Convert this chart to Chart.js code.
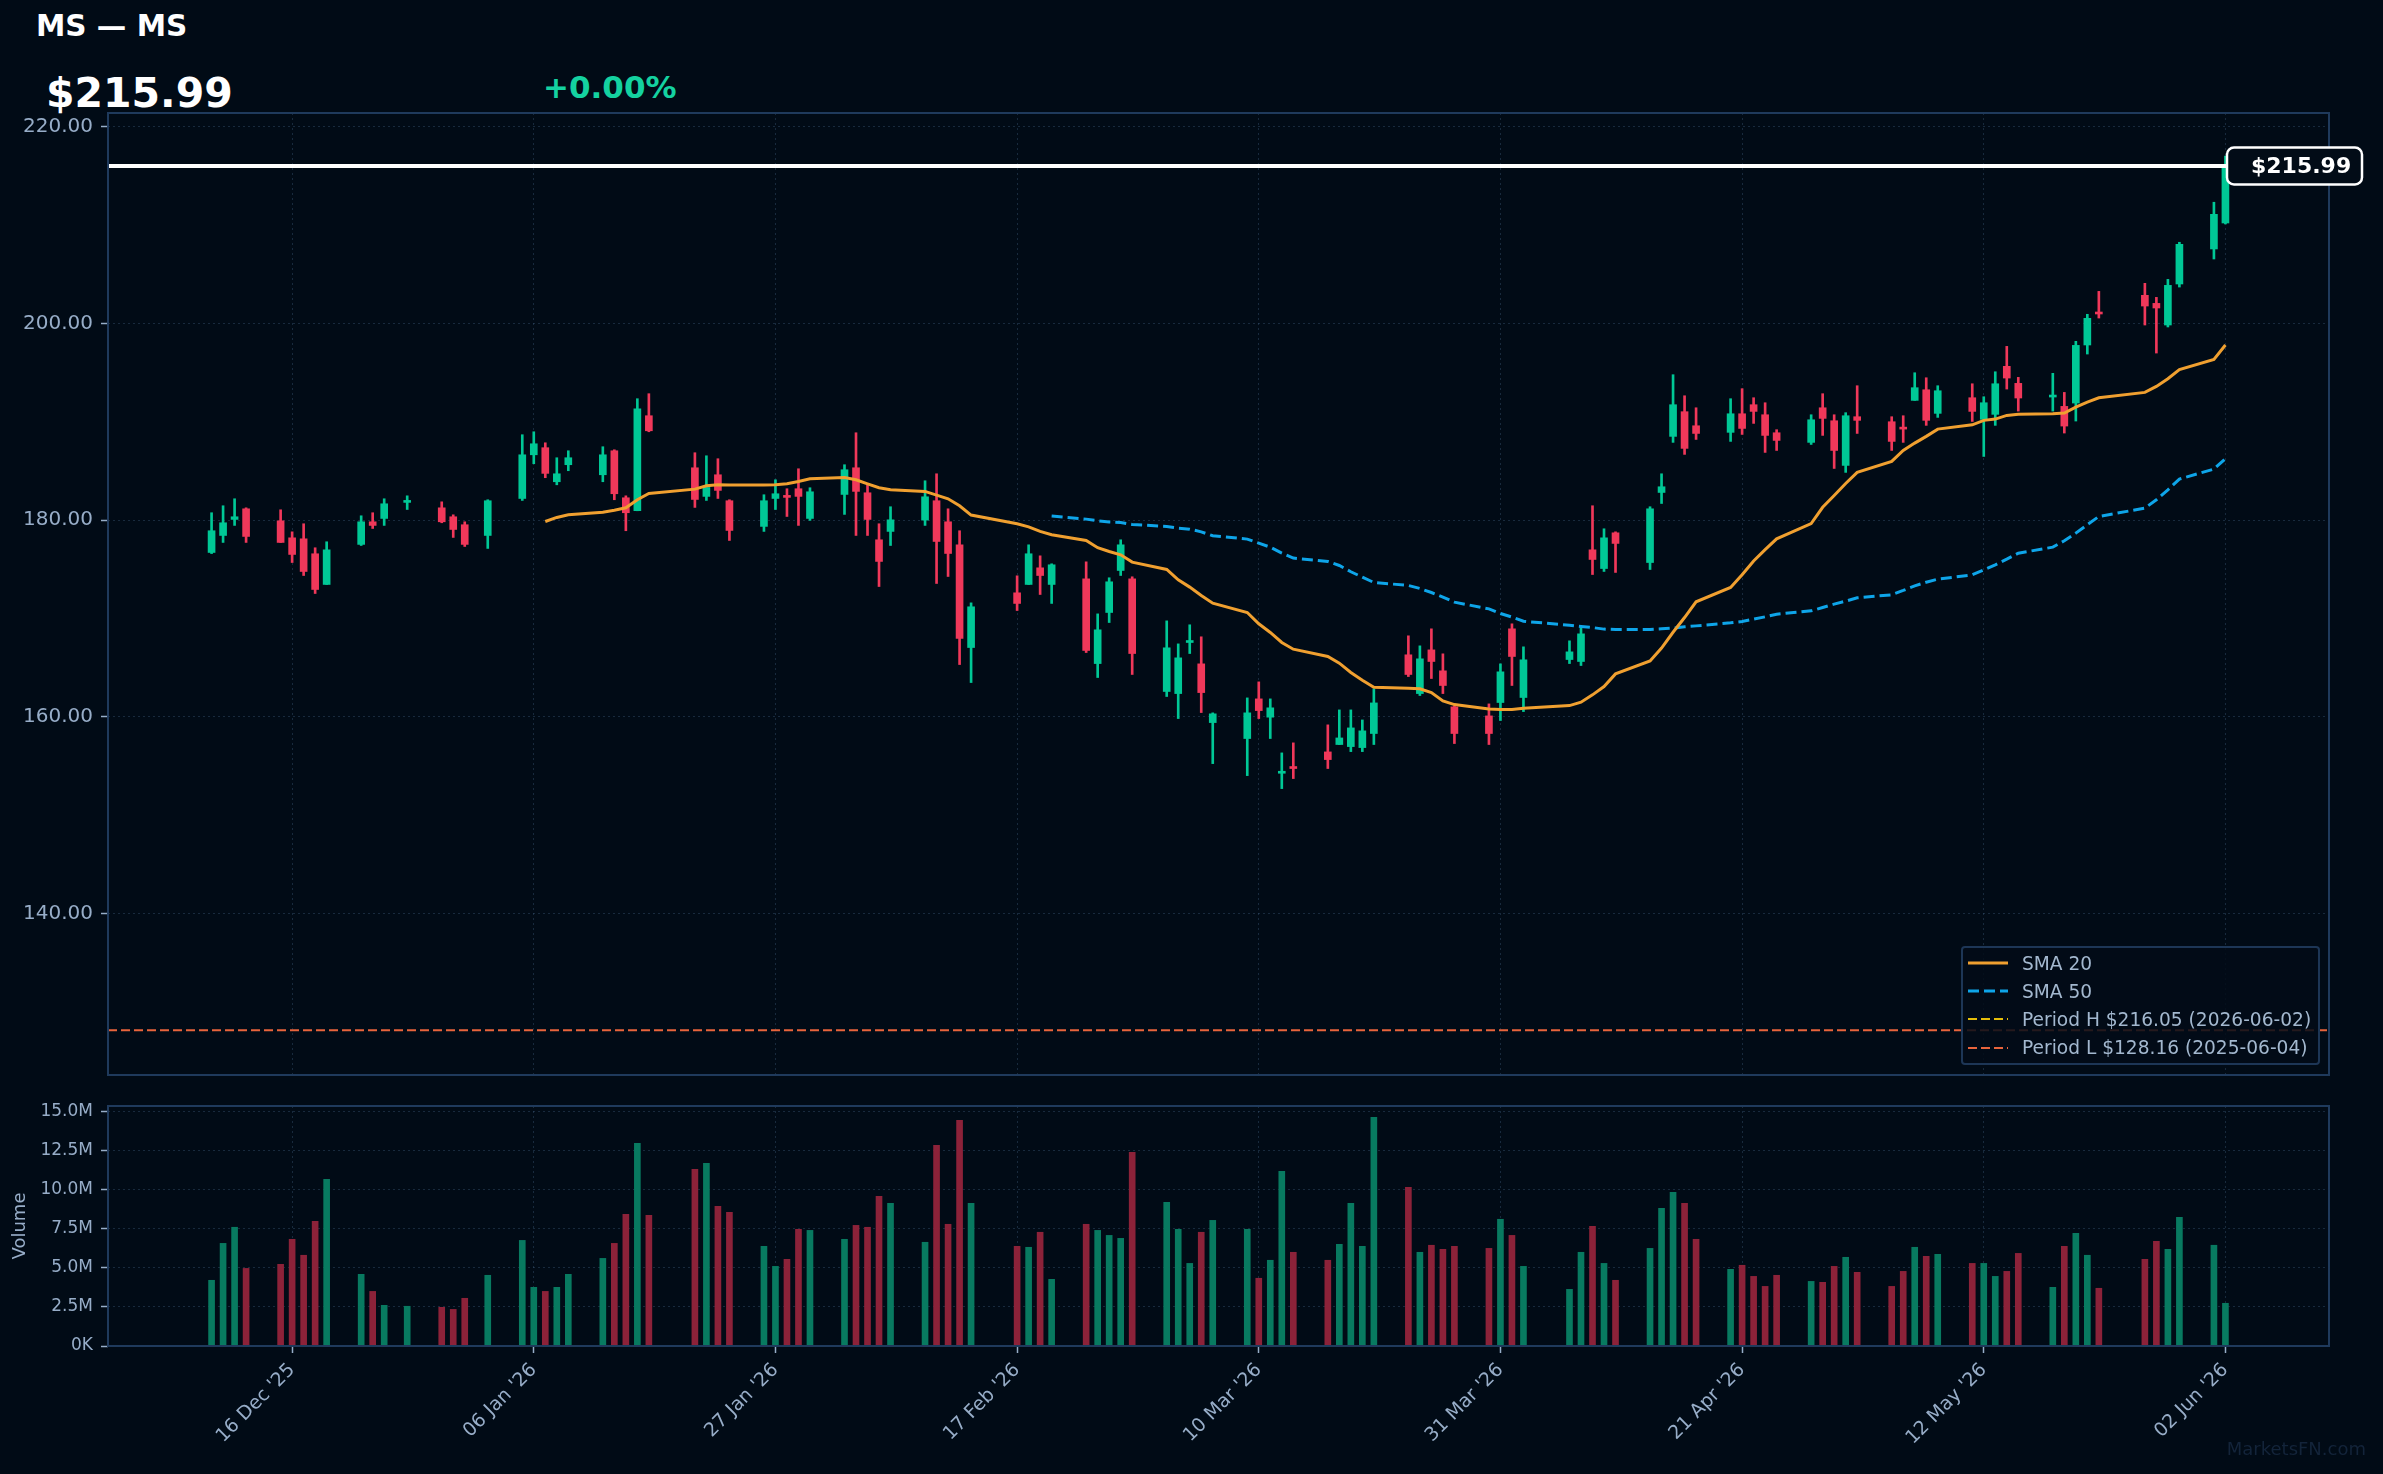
<!DOCTYPE html>
<html>
<head>
<meta charset="utf-8">
<title>MS — MS</title>
<script src="https://cdn.jsdelivr.net/npm/chart.js@4.4.1/dist/chart.umd.min.js"></script>
<style>
  html, body { margin: 0; padding: 0; background: #010b16; }
  body { position: relative; width: 2383px; height: 1474px; overflow: hidden;
         font-family: "DejaVu Sans", sans-serif; }
  .txt { position: absolute; white-space: nowrap; font-weight: bold; }
  #title { left: 36px; top: 12px; font-size: 29.5px; line-height: 29.5px; color: #ffffff; }
  #last { left: 46px; top: 73px; font-size: 41px; line-height: 41px; color: #ffffff; }
  #chg { left: 543px; top: 72px; font-size: 31px; line-height: 31px; color: #14d2a0; }
  canvas { position: absolute; left: 0; }
  #priceChart { top: 100px; }
  #volChart { top: 1090px; }
  #legend { position: absolute; left: 1961px; top: 946px; width: 359px; height: 119px;
            border: 2px solid #1d3656; border-radius: 4px; background: rgba(2, 12, 23, 0.85);
            padding: 1px 0 0 5px; box-sizing: border-box; }
  .row { height: 28.2px; display: flex; align-items: center; color: #a3b8cf; font-size: 18.6px; white-space: nowrap; }
  .row svg { margin-right: 14px; flex: none; }
  #mark { position: absolute; right: 17px; top: 1440px; font-size: 18px; line-height: 18px; color: #13243a; }
</style>
</head>
<body>
<div id="title" class="txt">MS — MS</div>
<div id="last" class="txt">$215.99</div>
<div id="chg" class="txt">+0.00%</div>
<canvas id="priceChart" width="2383" height="990"></canvas>
<canvas id="volChart" width="2383" height="384"></canvas>
<div id="legend"></div>
<div id="mark">MarketsFN.com</div>
<script>
"use strict";

// daily bars
const dates = [
  "2025-12-09", "2025-12-10", "2025-12-11", "2025-12-12",
  "2025-12-15", "2025-12-16", "2025-12-17", "2025-12-18", "2025-12-19",
  "2025-12-22", "2025-12-23", "2025-12-24", "2025-12-26",
  "2025-12-29", "2025-12-30", "2025-12-31", "2026-01-02",
  "2026-01-05", "2026-01-06", "2026-01-07", "2026-01-08", "2026-01-09",
  "2026-01-12", "2026-01-13", "2026-01-14", "2026-01-15", "2026-01-16",
  "2026-01-20", "2026-01-21", "2026-01-22", "2026-01-23",
  "2026-01-26", "2026-01-27", "2026-01-28", "2026-01-29", "2026-01-30",
  "2026-02-02", "2026-02-03", "2026-02-04", "2026-02-05", "2026-02-06",
  "2026-02-09", "2026-02-10", "2026-02-11", "2026-02-12", "2026-02-13",
  "2026-02-17", "2026-02-18", "2026-02-19", "2026-02-20",
  "2026-02-23", "2026-02-24", "2026-02-25", "2026-02-26", "2026-02-27",
  "2026-03-02", "2026-03-03", "2026-03-04", "2026-03-05", "2026-03-06",
  "2026-03-09", "2026-03-10", "2026-03-11", "2026-03-12", "2026-03-13",
  "2026-03-16", "2026-03-17", "2026-03-18", "2026-03-19", "2026-03-20",
  "2026-03-23", "2026-03-24", "2026-03-25", "2026-03-26", "2026-03-27",
  "2026-03-30", "2026-03-31", "2026-04-01", "2026-04-02",
  "2026-04-06", "2026-04-07", "2026-04-08", "2026-04-09", "2026-04-10",
  "2026-04-13", "2026-04-14", "2026-04-15", "2026-04-16", "2026-04-17",
  "2026-04-20", "2026-04-21", "2026-04-22", "2026-04-23", "2026-04-24",
  "2026-04-27", "2026-04-28", "2026-04-29", "2026-04-30", "2026-05-01",
  "2026-05-04", "2026-05-05", "2026-05-06", "2026-05-07", "2026-05-08",
  "2026-05-11", "2026-05-12", "2026-05-13", "2026-05-14", "2026-05-15",
  "2026-05-18", "2026-05-19", "2026-05-20", "2026-05-21", "2026-05-22",
  "2026-05-26", "2026-05-27", "2026-05-28", "2026-05-29",
  "2026-06-01", "2026-06-02",
];

const opens = [
  176.71, 178.44, 180.07, 181.15,
  179.93, 178.20, 178.10, 176.58, 173.46,
  177.53, 179.83, 180.17, 181.80,
  181.25, 180.34, 179.53, 178.44,
  182.20, 186.64, 187.36, 183.90, 185.63,
  184.61, 187.05, 182.27, 180.95, 190.61,
  185.32, 182.41, 184.61, 181.97,
  179.36, 182.20, 182.44, 183.19, 180.17,
  182.61, 185.32, 182.78, 178.00, 178.85,
  180.00, 181.97, 179.83, 177.49, 167.05,
  172.61, 173.46, 175.15, 173.46,
  174.03, 165.42, 170.61, 174.88, 174.03,
  162.58, 162.37, 167.56, 165.39, 159.42,
  157.80, 161.83, 159.97, 154.27, 154.92,
  156.44, 157.19, 156.98, 156.88, 158.31,
  166.31, 162.37, 166.81, 164.68, 161.02,
  160.10, 161.46, 168.95, 161.97,
  165.83, 165.63, 176.98, 175.08, 178.71,
  175.69, 182.81, 188.51, 191.02, 189.59,
  188.92, 190.81, 191.73, 190.71, 188.88,
  187.90, 191.42, 190.10, 185.56, 190.51,
  190.00, 189.36, 192.17, 193.25, 190.85,
  192.44, 190.24, 190.75, 195.63, 193.90,
  192.51, 191.56, 191.90, 197.80, 201.12,
  202.85, 202.03, 199.83, 204.00,
  207.56, 210.20,
];

const highs = [
  180.75, 181.46, 182.17, 181.25,
  181.05, 178.81, 179.63, 177.19, 177.80,
  180.44, 180.75, 182.17, 182.47,
  181.86, 180.54, 179.83, 182.07,
  188.68, 188.98, 187.86, 186.34, 187.05,
  187.46, 187.15, 182.47, 192.34, 192.85,
  186.85, 186.54, 186.24, 182.07,
  182.58, 184.10, 183.19, 185.22, 183.29,
  185.63, 188.88, 183.59, 179.63, 181.36,
  184.00, 184.71, 181.15, 178.92, 171.59,
  174.34, 177.49, 176.37, 175.56,
  175.76, 170.47, 174.14, 178.00, 174.24,
  169.76, 167.42, 169.36, 168.14, 160.41,
  161.93, 163.56, 161.83, 156.34, 157.36,
  159.19, 160.71, 160.71, 159.69, 162.85,
  168.24, 167.22, 168.95, 166.41, 161.12,
  161.32, 165.39, 169.46, 167.12,
  167.73, 169.05, 181.46, 179.12, 178.81,
  181.36, 184.71, 194.78, 192.64, 191.42,
  192.34, 193.36, 192.44, 191.93, 189.19,
  190.71, 192.85, 190.71, 190.92, 193.66,
  190.51, 190.61, 194.98, 194.47, 193.66,
  193.86, 192.54, 195.08, 197.66, 194.51,
  194.92, 192.98, 198.17, 200.92, 203.25,
  204.07, 202.64, 204.47, 208.24,
  212.31, 217.00,
];

const lows = [
  176.60, 177.73, 179.46, 177.73,
  177.73, 175.69, 174.37, 172.54, 173.46,
  177.42, 179.15, 179.46, 181.08,
  179.73, 178.24, 177.32, 177.12,
  182.00, 185.73, 184.31, 183.59, 185.02,
  183.90, 182.07, 178.92, 180.95, 188.98,
  181.29, 182.00, 182.20, 177.93,
  178.85, 181.08, 180.37, 179.46, 179.97,
  180.58, 178.44, 178.44, 173.25, 177.42,
  179.46, 173.56, 174.27, 165.32, 163.49,
  170.81, 173.46, 172.44, 171.53,
  166.54, 164.00, 169.59, 174.37, 164.31,
  162.07, 159.83, 166.44, 160.44, 155.25,
  154.03, 159.83, 157.80, 152.71, 153.73,
  154.75, 157.19, 156.47, 156.47, 157.19,
  164.10, 162.17, 163.90, 162.37, 157.29,
  157.19, 159.63, 163.19, 160.54,
  165.42, 165.22, 174.47, 174.78, 174.68,
  174.98, 181.69, 187.90, 186.68, 188.20,
  188.00, 188.71, 189.83, 186.88, 187.08,
  187.69, 188.61, 185.25, 184.85, 188.81,
  187.08, 187.90, 192.17, 189.63, 190.44,
  190.03, 186.47, 189.63, 193.32, 191.08,
  191.08, 188.85, 190.07, 196.88, 200.54,
  199.83, 196.98, 199.63, 203.69,
  206.54, 210.10,
];

const closes = [
  178.92, 179.73, 180.34, 178.34,
  177.73, 176.51, 174.78, 172.95, 176.98,
  179.83, 179.46, 181.66, 181.93,
  179.83, 179.05, 177.53, 181.97,
  186.64, 187.76, 184.75, 184.71, 186.34,
  186.64, 182.68, 180.75, 191.32, 189.08,
  182.10, 183.32, 183.02, 178.95,
  181.97, 182.68, 182.31, 182.41, 182.88,
  185.12, 182.92, 180.07, 175.80, 180.03,
  182.37, 177.83, 176.61, 167.97, 171.19,
  171.53, 176.58, 174.37, 175.46,
  166.75, 168.85, 173.73, 177.49, 166.44,
  167.02, 166.00, 167.63, 162.47, 160.31,
  160.41, 160.64, 160.92, 154.37, 154.75,
  155.66, 157.86, 158.88, 158.58, 161.42,
  164.31, 165.90, 165.63, 163.19, 158.31,
  158.31, 164.58, 166.14, 165.80,
  166.61, 168.44, 176.00, 178.20, 177.63,
  181.15, 183.39, 191.73, 187.29, 188.81,
  190.81, 189.32, 191.05, 188.61, 188.10,
  190.20, 190.34, 187.08, 190.61, 190.14,
  188.00, 189.25, 193.46, 190.14, 193.15,
  191.05, 191.93, 193.86, 194.44, 192.41,
  192.68, 189.56, 197.76, 200.51, 200.95,
  201.76, 201.56, 203.86, 208.03,
  211.08, 215.99,
];

// millions of shares
const volumes = [
  4.20, 6.56, 7.59, 4.96,
  5.22, 6.82, 5.80, 7.97, 10.65,
  4.58, 3.49, 2.60, 2.54,
  2.47, 2.34, 3.05, 4.52,
  6.75, 3.75, 3.49, 3.75, 4.58,
  5.60, 6.56, 8.42, 12.96, 8.35,
  11.29, 11.68, 8.93, 8.54,
  6.37, 5.09, 5.54, 7.46, 7.39,
  6.82, 7.71, 7.59, 9.57, 9.12,
  6.63, 12.83, 7.78, 14.43, 9.12,
  6.37, 6.31, 7.27, 4.26,
  7.78, 7.39, 7.07, 6.88, 12.38,
  9.18, 7.46, 5.28, 7.27, 8.03,
  7.46, 4.33, 5.48, 11.17, 5.99,
  5.48, 6.50, 9.12, 6.37, 14.62,
  10.14, 5.99, 6.44, 6.18, 6.37,
  6.24, 8.10, 7.07, 5.09,
  3.62, 5.99, 7.65, 5.28, 4.20,
  6.24, 8.80, 9.82, 9.12, 6.82,
  4.90, 5.16, 4.45, 3.81, 4.52,
  4.13, 4.07, 5.09, 5.67, 4.71,
  3.81, 4.77, 6.31, 5.73, 5.86,
  5.28, 5.28, 4.45, 4.77, 5.92,
  3.75, 6.37, 7.20, 5.80, 3.69,
  5.54, 6.69, 6.18, 8.22,
  6.44, 2.73,
];

const sma20Start = "2026-01-07";
const sma20 = [
  179.86, 180.27, 180.54, 180.81, 181.00, 181.25, 182.07, 182.70,
  183.15, 183.49, 183.59, 183.56, 183.56, 183.59, 183.69, 183.93, 184.20,
  184.34, 184.10, 183.69, 183.29, 183.08, 182.92, 182.54, 182.17, 181.46, 180.51,
  179.63, 179.32, 178.85, 178.51, 177.93, 177.20, 176.81, 176.47, 175.73,
  174.98, 173.93, 173.19, 172.34, 171.56, 170.61, 169.46, 168.58, 167.56, 166.88,
  166.14, 165.46, 164.51, 163.73, 163.02, 162.92, 162.85, 162.47, 161.63, 161.25,
  160.81, 160.75, 160.75, 160.88,
  161.15, 161.49, 162.24, 163.08, 164.37, 165.69, 167.00, 168.60, 170.10, 171.70,
  173.15, 174.44, 175.85, 177.00, 178.10, 179.65, 181.30, 182.50, 183.72, 184.85,
  185.97, 187.08, 187.83, 188.51, 189.25, 189.69, 190.14, 190.27, 190.64, 190.75,
  190.81, 190.88, 191.49, 192.00, 192.44, 192.98, 193.59, 194.37, 195.29,
  196.34, 197.80,
];

const sma50Start = "2026-02-20";
const sma50 = [
  180.41, 180.10, 179.93, 179.80, 179.76, 179.56,
  179.36, 179.19, 179.08, 178.81, 178.41, 178.07, 177.66, 177.25, 176.64, 176.14,
  175.80, 175.39, 174.75, 174.20, 173.66, 173.36, 173.05, 172.64, 172.17, 171.66,
  170.98, 170.51, 170.14, 169.72,
  169.32, 169.19, 169.08, 168.92, 168.88, 168.88, 168.95, 169.02, 169.15, 169.25,
  169.56, 169.69, 169.93, 170.17, 170.44, 170.78, 171.12, 171.46, 171.76, 172.10,
  172.41, 172.85, 173.32, 173.69, 174.00, 174.44, 174.95, 175.46, 176.03, 176.64,
  177.25, 177.90, 178.68, 179.53, 180.37, 181.22, 182.07, 183.08, 184.17,
  185.19, 186.24,
];

const lastPrice = 215.99;
const periodHigh = 216.05;
const periodHighDate = "2026-06-02";
const periodLow = 128.16;
const periodLowDate = "2025-06-04";

const tickDates = ["2025-12-16", "2026-01-06", "2026-01-27", "2026-02-17", "2026-03-10",
                   "2026-03-31", "2026-04-21", "2026-05-12", "2026-06-02"];
const tickLabels = ["16 Dec '25", "06 Jan '26", "27 Jan '26", "17 Feb '26", "10 Mar '26",
                    "31 Mar '26", "21 Apr '26", "12 May '26", "02 Jun '26"];
const priceTicks = [140, 160, 180, 200, 220];
const volumeTicks = [0, 2.5, 5, 7.5, 10, 12.5, 15];

// look
const UP = "#00c896";
const DOWN = "#f0385a";
const VOL_UP = "#087a60";
const VOL_DOWN = "#8c2239";
const GRID = "rgba(70, 100, 135, 0.35)";
const TICK = "#97adc8";
const FRAME = "#1f3a5c";
const X_MIN = -16.0, X_MAX = 177.0;   // days from 16 Dec '25
const Y_MIN = 123.6, Y_MAX = 221.38;
const V_MAX = 15.34;

Chart.defaults.font.family = '"DejaVu Sans", sans-serif';
Chart.defaults.color = TICK;

const day0 = Date.UTC(2025, 11, 16);
function dayOf(s) {
  return (Date.UTC(+s.slice(0, 4), +s.slice(5, 7) - 1, +s.slice(8, 10)) - day0) / 86400000;
}

const xs = dates.map(dayOf);
const tickDays = tickDates.map(dayOf);
const isUp = closes.map((c, i) => c >= opens[i]);

function lineFrom(start, values) {
  const i0 = dates.indexOf(start);
  return values.map((v, i) => ({ x: xs[i0 + i], y: v }));
}
function flat(v) { return [{ x: X_MIN, y: v }, { x: X_MAX, y: v }]; }

const periodHLabel = `Period H $${periodHigh.toFixed(2)} (${periodHighDate})`;
const periodLLabel = `Period L $${periodLow.toFixed(2)} (${periodLowDate})`;

const frame = {
  id: "frame",
  afterDraw(c) {
    const a = c.chartArea, g = c.ctx;
    g.save();
    g.strokeStyle = FRAME;
    g.lineWidth = 2;
    g.strokeRect(a.left, a.top, a.right - a.left, a.bottom - a.top);
    g.restore();
  },
};

const priceTag = {
  id: "priceTag",
  afterDraw(c) {
    const a = c.chartArea, g = c.ctx;
    const y = c.scales.y.getPixelForValue(lastPrice);
    const x = a.right - 102, w = 135, h = 37;
    g.save();
    g.beginPath();
    g.roundRect(x, y - h / 2, w, h, 7);
    g.fillStyle = "#020c17";
    g.fill();
    g.lineWidth = 2.5;
    g.strokeStyle = "#ffffff";
    g.stroke();
    g.fillStyle = "#ffffff";
    g.font = 'bold 22px "DejaVu Sans"';
    g.textBaseline = "middle";
    g.fillText(`$${lastPrice.toFixed(2)}`, x + 24, y + 1);
    g.restore();
  },
};

function xScale(showLabels) {
  return {
    type: "linear",
    min: X_MIN,
    max: X_MAX,
    offset: false,
    afterBuildTicks: s => { s.ticks = tickDays.map(v => ({ value: v })); },
    afterFit: s => {
      s.height = showLabels ? 128 : 0;
      s.paddingLeft = 0;
      s.paddingRight = 0;
    },
    ticks: {
      display: showLabels,
      autoSkip: false,
      maxRotation: 45,
      minRotation: 45,
      padding: 6,
      color: TICK,
      font: { size: 19 },
      callback: (v, i) => tickLabels[i],
    },
    grid: {
      color: GRID,
      offset: false,
      drawTicks: showLabels,
      tickLength: 7,
      tickColor: TICK,
      tickWidth: 1.5,
      borderDash: [2, 3],
    },
    border: { display: false, dash: [2, 3] },
  };
}

function yScale(min, max, ticks, size, fmt, title) {
  return {
    min, max,
    afterBuildTicks: s => { s.ticks = ticks.map(v => ({ value: v })); },
    afterFit: s => { s.width = 108; s.paddingTop = 0; s.paddingBottom = 0; },
    ticks: { color: TICK, font: { size }, padding: 8, callback: fmt },
    grid: { color: GRID, tickLength: 7, tickColor: TICK, tickWidth: 1.5, borderDash: [2, 3] },
    border: { display: false, dash: [2, 3] },
    title: title || { display: false },
  };
}

const common = {
  responsive: false,
  animation: false,
  events: [],
  plugins: { legend: { display: false }, tooltip: { enabled: false } },
};

const priceChart = new Chart(document.getElementById("priceChart"), {
  type: "bar",
  data: {
    datasets: [
      { type: "line", label: "SMA 20", data: lineFrom(sma20Start, sma20),
        borderColor: "#f0a030", borderWidth: 3, pointRadius: 0, order: 1 },
      { type: "line", label: "SMA 50", data: lineFrom(sma50Start, sma50),
        borderColor: "#0ea5e9", borderWidth: 3, borderDash: [11, 5], pointRadius: 0, order: 2 },
      { type: "line", label: periodHLabel, data: flat(periodHigh),
        borderColor: "#e6be0a", borderWidth: 2, borderDash: [9, 4], pointRadius: 0, order: 6 },
      { type: "line", label: periodLLabel, data: flat(periodLow),
        borderColor: "#e8643c", borderWidth: 2, borderDash: [9, 4], pointRadius: 0, order: 6 },
      { type: "bar", label: "wick", data: xs.map((x, i) => ({ x, y: [lows[i], highs[i]] })),
        backgroundColor: isUp.map(u => u ? UP : DOWN), grouped: false,
        barThickness: 2, maxBarThickness: 2, order: 4 },
      { type: "bar", label: "body", data: xs.map((x, i) => ({ x, y: [opens[i], closes[i]] })),
        backgroundColor: isUp.map(u => u ? UP : DOWN), grouped: false,
        barThickness: 7, maxBarThickness: 7, minBarLength: 2, order: 3 },
      { type: "line", label: "last", data: flat(lastPrice),
        borderColor: "#ffffff", borderWidth: 4, pointRadius: 0, order: 0 },
    ],
  },
  options: {
    ...common,
    layout: { padding: { top: 13, right: 54, bottom: 15, left: 0 } },
    scales: {
      x: xScale(false),
      y: yScale(Y_MIN, Y_MAX, priceTicks, 20, v => v.toFixed(2)),
    },
  },
  plugins: [frame, priceTag],
});

new Chart(document.getElementById("volChart"), {
  type: "bar",
  data: {
    datasets: [{
      label: "Volume",
      data: xs.map((x, i) => ({ x, y: volumes[i] })),
      backgroundColor: isUp.map(u => u ? VOL_UP : VOL_DOWN),
      barThickness: 6, maxBarThickness: 6,
    }],
  },
  options: {
    ...common,
    layout: { padding: { top: 16, right: 54, bottom: 0, left: 0 } },
    scales: {
      x: xScale(true),
      y: yScale(0, V_MAX, volumeTicks, 17, v => v === 0 ? "0K" : v.toFixed(1) + "M", {
        display: true, text: "Volume", color: TICK, font: { size: 18 },
        padding: { top: 10, bottom: 0 },
      }),
    },
  },
  plugins: [frame],
});

function renderLegend(chart) {
  const names = ["SMA 20", "SMA 50", periodHLabel, periodLLabel];
  const rows = names.map(n => {
    const d = chart.data.datasets.find(ds => ds.label === n);
    const dash = d.borderDash ? `stroke-dasharray="${d.borderDash.join(" ")}"` : "";
    return `<div class="row"><svg width="40" height="8"><line x1="0" y1="4" x2="40" y2="4"
      stroke="${d.borderColor}" stroke-width="${d.borderWidth}" ${dash}/></svg><span>${d.label}</span></div>`;
  });
  document.getElementById("legend").innerHTML = rows.join("");
}
renderLegend(priceChart);
</script>
</body>
</html>
